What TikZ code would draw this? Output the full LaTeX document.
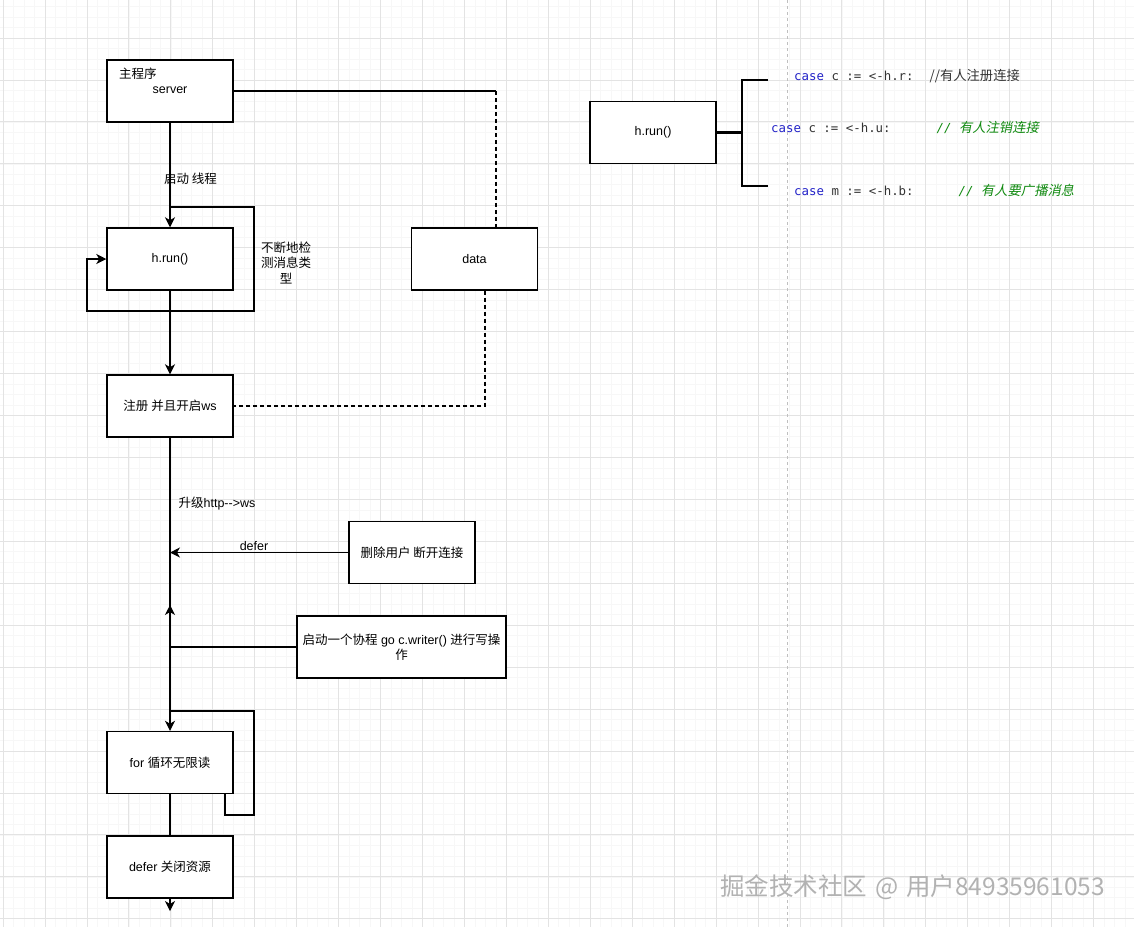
\documentclass[tikz,border=0pt]{standalone}
\usepackage{fontspec}
\setmainfont{Liberation Sans}
\setmonofont{DejaVu Sans Mono}
\newfontfamily\cjk{Noto Sans CJK SC}
\newfontfamily\cjkit{Noto Sans CJK SC}[FakeSlant=0.2]
\usepackage{tikz}
\usetikzlibrary{arrows.meta}
\definecolor{codeblue}{HTML}{2323C8}
\definecolor{codegray}{HTML}{333333}
\definecolor{codegreen}{HTML}{108A10}
\newcommand{\cmt}[1]{{\cjk\fontsize{13.3}{15}\selectfont #1}}
\newcommand{\cmtit}[1]{{\cjkit\fontsize{13.3}{15}\selectfont #1}}
\tikzset{
    box/.style={draw,line width=1.5pt,fill=white,minimum width=126pt,minimum height=62pt,
        inner sep=2pt,align=center,font=\fontsize{12.5}{15}\selectfont},
    txt/.style={inner sep=0pt,align=center,font=\fontsize{12.5}{15.5}\selectfont},
    arr/.style={line width=1.1pt,-{Stealth[length=10pt,width=10pt,inset=3pt]}},
    link/.style={line width=1.1pt},
    dlink/.style={line width=1.1pt,dash pattern=on 4pt off 3pt},
    brace/.style={line width=2.2pt},
    code/.style={anchor=west,inner sep=0pt,text=codegray,font=\ttfamily\fontsize{12.4}{15}\selectfont},
    gridminor/.style={gray!6,line width=0.6pt},
    gridmajor/.style={gray!22,line width=0.8pt},
}

\begin{document}
\begin{tikzpicture}[x=1pt,y=-1pt]
        \useasboundingbox (0,0) rectangle (1134,927);
        \fill[white] (0,0) rectangle (1134,927);

        % grid
        \foreach \i in {0,...,108}
            \draw[gridminor] ({3.06+10.485*\i},0) -- ({3.06+10.485*\i},927);
        \foreach \i in {0,...,88}
            \draw[gridminor] (0,{6.545+10.485*\i}) -- (1134,{6.545+10.485*\i});
        \foreach \i in {0,...,27}
            \draw[gridmajor] ({3.06+41.94*\i},0) -- ({3.06+41.94*\i},927);
        \foreach \i in {1,...,22}
            \draw[gridmajor] (0,{-3.94+41.94*\i}) -- (1134,{-3.94+41.94*\i});
        \draw[gray!50,line width=1pt,dash pattern=on 3pt off 3pt] (787,0) -- (787,927);

        % left flow
        \node[box] (srv) at (170,91) {};
        \node[txt,anchor=west] (srvtop) at (119,74) {\cjk 主程序};
        \node[txt] (srvname) at (170,90) {server};
        \node[box] (hrun) at (170,259) {h.run()};
        \node[box] (reg) at (170,406) {{\cjk 注册 并且开启}ws};
        \node[box] (data) at (474.5,259) {data};
        \node[box] (del) at (412,552.5) {\cjk 删除用户 断开连接};
        \node[box,minimum width=209pt] (gowr) at (401.5,647)
            {{\cjk 启动一个协程} go c.writer() {\cjk 进行写操}\\{\cjk 作}};
        \node[box] (forrd) at (170,762.5) {for {\cjk 循环无限读}};
        \node[box] (defr) at (170,867) {defer {\cjk 关闭资源}};

        \draw[arr] (srv) -- (hrun);
        \node[txt] (lthread) at (190.5,179) {\cjk 启动 线程};

        \coordinate (lp1) at (170,207);
        \draw[arr] (lp1) -- (254,207) -- (254,311) -- (87,311) -- (87,259) -- (hrun.west);
        \node[txt] (lcheck) at (286,262.5) {\cjk 不断地检\\\cjk 测消息类\\\cjk 型};

        \draw[arr] (hrun) -- (reg);
        \draw[link] (srv.east) -- (496,91) coordinate (dk);
        \draw[dlink] (dk) -- (dk |- data.north);
        \draw[dlink] ([xshift=10.5pt]data.south) |- (reg.east);

        \draw[arr] (reg) -- (forrd);
        \node[txt] (lup) at (217,504) {{\cjk 升级}http-\kern0pt-\kern0pt>ws};
        \draw[arr] (del.west) -- (del.west -| reg.south);
        \node[txt] (ldefer) at (254,546) {defer};
        \coordinate (upt) at (170,605);
        \draw[arr] (gowr.west) -| (upt);

        \coordinate (lp2) at (170,711);
        \draw[link] (lp2) -- (254,711) -- (254,815) -- (225,815) -- ([xshift=55pt]forrd.south);
        \draw[link] (forrd) -- (defr);
        \coordinate (endpt) at (170,911);
        \draw[arr] (defr) -- (endpt);

        % h.run() select
        \node[box] (hrun2) at (653,132.5) {h.run()};
        \draw[brace] (hrun2.east) -- (742,132.5);
        \draw[brace] (768,80) -- (742,80) -- (742,186) -- (768,186);

        \node[code] (case1) at (794,76)
            {{\color{codeblue}case} c := <-h.r:\hspace*{16pt}\cmt{//有人注册连接}};
        \node[code] (case2) at (771,127)
            {{\color{codeblue}case} c := <-h.u:\hspace*{46pt}{\color{codegreen}\itshape // \cmtit{有人注销连接}}};
        \node[code] (case3) at (794,190)
            {{\color{codeblue}case} m := <-h.b:\hspace*{45pt}{\color{codegreen}\itshape // \cmtit{有人要广播消息}}};

        \node[anchor=west,inner sep=0pt,text=gray!60,font=\cjk\fontsize{24.5}{28}\selectfont] (mark)
            at (720,887) {掘金技术社区\hspace{3pt} @ \hspace{2pt}用户84935961053};
\end{tikzpicture}
\end{document}
